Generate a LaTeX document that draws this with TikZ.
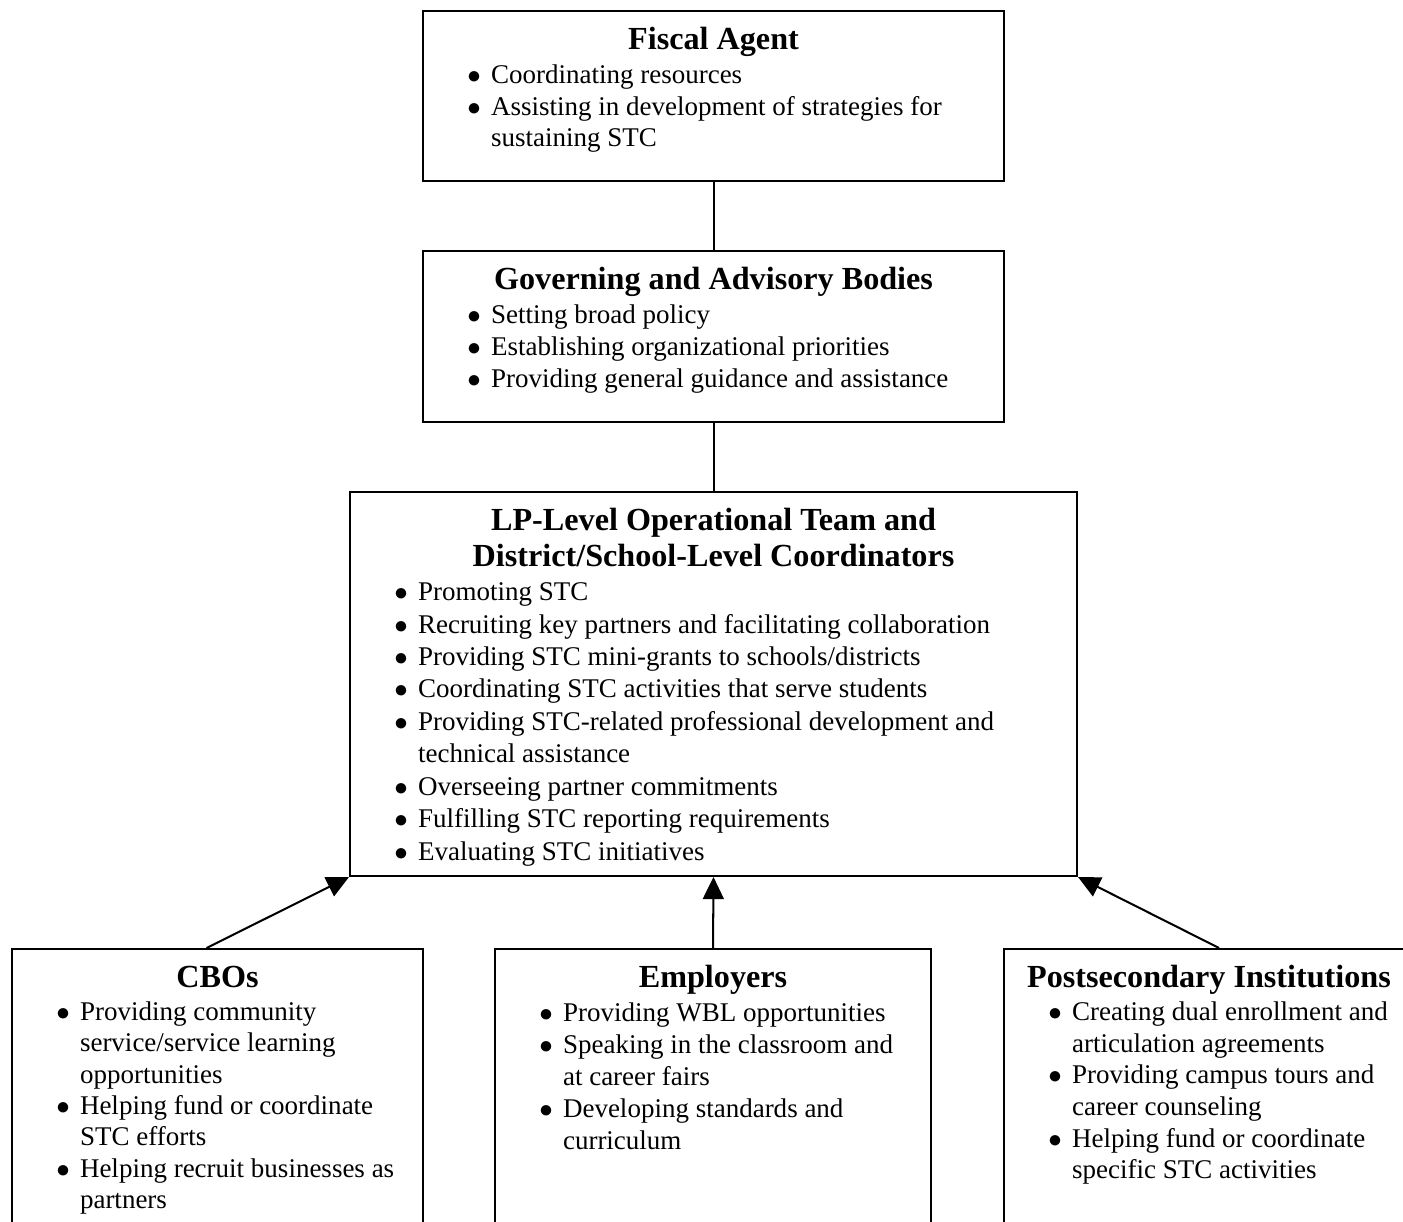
\documentclass[tikz,border=0pt]{standalone}
\usepackage{fontspec}
\setmainfont{Liberation Serif}
\usepackage{enumitem}
\usetikzlibrary{arrows.meta}
\newdimen\pxunit \pxunit=0.4444pt
\newcommand{\headsize}{\fontsize{14.3}{16}\selectfont\bfseries}
% box text: [line spacing], width, height (in px), title, items
\newcommand{\orgtext}[5][14.22]{%
  \begin{minipage}[t][#3\pxunit][t]{#2\pxunit}
  \centering\headsize\rule{0pt}{38\pxunit}#4\par
  \normalfont\fontsize{12}{#1}\selectfont\raggedright
  \begin{itemize}[label=$\bullet$, leftmargin=68\pxunit, labelsep=4.5pt,
    itemsep=0pt, parsep=0pt, topsep=2\pxunit, partopsep=0pt]
  #5
  \end{itemize}
  \end{minipage}}
\tikzstyle{block} = [draw, line width=0.9pt, inner sep=0pt, anchor=north west]
\tikzstyle{line} = [draw, line width=0.9pt]
\tikzstyle{arrow} = [draw, line width=0.9pt, -{Triangle[length=9.8pt,width=9.3pt]}]

\begin{document}
\begin{tikzpicture}[x=0.4444pt,y=-0.4444pt]
\useasboundingbox (0,0) rectangle (1403,1222);
\clip (0,0) rectangle (1403,1222);
\node [block] (fiscal) at (422,10) {\orgtext{581}{170}{Fiscal Agent}{%
  \item Coordinating resources
  \item Assisting in development of strategies for\\ sustaining STC}};
\node [block] (govern) at (422,250) {\orgtext{581}{171}{Governing and Advisory Bodies}{%
  \item Setting broad policy
  \item Establishing organizational priorities
  \item Providing general guidance and assistance}};
\node [block] (lpteam) at (349,491) {\orgtext[14.44]{727}{384}{LP-Level Operational Team and\\ District/School-Level Coordinators}{%
  \item Promoting STC
  \item Recruiting key partners and facilitating collaboration
  \item Providing STC mini-grants to schools/districts
  \item Coordinating STC activities that serve students
  \item Providing STC-related professional development and\\ technical assistance
  \item Overseeing partner commitments
  \item Fulfilling STC reporting requirements
  \item Evaluating STC initiatives}};
\node [block] (cbo) at (11,948) {\orgtext[13.95]{411}{300}{CBOs}{%
  \item Providing community\\ service/service learning\\ opportunities
  \item Helping fund or coordinate\\ STC efforts
  \item Helping recruit businesses as\\ partners}};
\node [block] (employ) at (494,948) {\orgtext{436}{300}{Employers}{%
  \item Providing WBL opportunities
  \item Speaking in the classroom and\\ at career fairs
  \item Developing standards and\\ curriculum}};
\node [block] (post) at (1003,948) {\orgtext[14.05]{410}{300}{Postsecondary Institutions}{%
  \item Creating dual enrollment and\\ articulation agreements
  \item Providing campus tours and\\ career counseling
  \item Helping fund or coordinate\\ specific STC activities}};
\path [line] (fiscal.south) -- (govern.north);
\path [line] (govern.south) -- (lpteam.north);
\path [arrow] ([xshift=-11\pxunit]cbo.north) -- (lpteam.south west);
\path [arrow] (employ.north) -- (lpteam.south);
\path [arrow] ([xshift=10\pxunit]post.north) -- (lpteam.south east);
\end{tikzpicture}
\end{document}
